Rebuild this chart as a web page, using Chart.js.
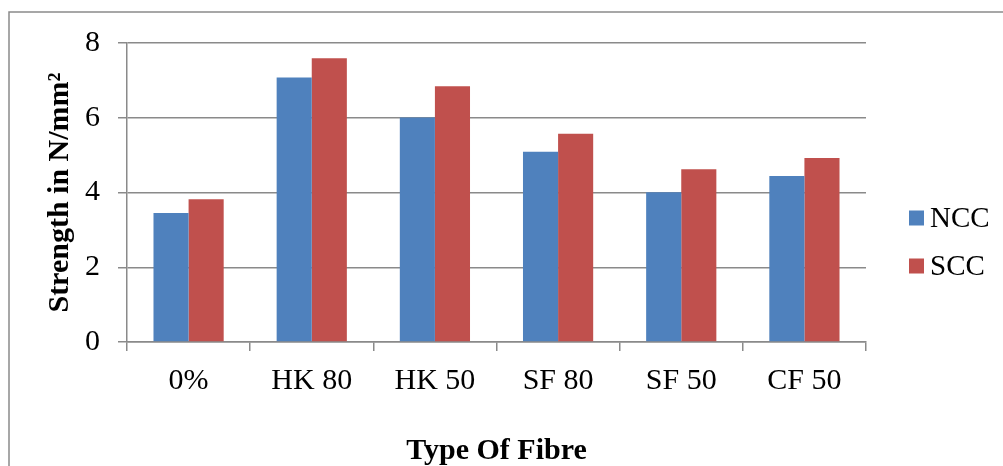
<!DOCTYPE html>
<html>
<head>
<meta charset="utf-8">
<script src="https://cdn.jsdelivr.net/npm/chart.js@4.4.0/dist/chart.umd.min.js"></script>
<style>
    html, body { margin: 0; padding: 0; background: #fff; }
    #wrap { width: 1003px; height: 466px; position: relative; }
</style>
</head>
<body>
<div id="wrap"><canvas id="chart"></canvas></div>
<script>
const fibreTypes = ['0%', 'HK 80', 'HK 50', 'SF 80', 'SF 50', 'CF 50'];
const nccValues = [3.45, 7.08, 6.01, 5.09, 4.01, 4.44];
const sccValues = [3.82, 7.59, 6.84, 5.57, 4.62, 4.92];
const yTicks = [0, 2, 4, 6, 8];

const gridColor = '#8a8a8a';
const serif = '"Liberation Serif", "Times New Roman", serif';

// outer frame of the chart object (left and top edges visible)
const framePlugin = {
    id: 'frame',
    beforeDraw(chart) {
        const ctx = chart.ctx;
        ctx.save();
        ctx.strokeStyle = '#8a8a8a';
        ctx.lineWidth = 1.5;
        ctx.beginPath();
        ctx.moveTo(9, chart.height + 2);
        ctx.lineTo(9, 12);
        ctx.lineTo(chart.width + 2, 12);
        ctx.stroke();
        ctx.restore();
    }
};

// legend drawn to the right of the plot, like the original
const sideLegend = {
    id: 'sideLegend',
    afterDraw(chart) {
        const ctx = chart.ctx;
        ctx.save();
        ctx.font = '29px ' + serif;
        ctx.textBaseline = 'middle';
        chart.data.datasets.forEach((ds, i) => {
            const cy = 218 + i * 48;
            ctx.fillStyle = ds.backgroundColor;
            ctx.fillRect(909, cy - 7.5, 15, 15);
            ctx.fillStyle = '#000';
            ctx.fillText(ds.label, 930, cy + 1);
        });
        ctx.restore();
    }
};

new Chart(document.getElementById('chart'), {
    type: 'bar',
    data: {
        labels: fibreTypes,
        datasets: [
            { label: 'NCC', data: nccValues, backgroundColor: '#4F81BD' },
            { label: 'SCC', data: sccValues, backgroundColor: '#C0504D' }
        ]
    },
    options: {
        responsive: true,
        maintainAspectRatio: false,
        animation: false,
        layout: { padding: { left: 38, top: 43, right: 137, bottom: 0 } },
        datasets: { bar: { categoryPercentage: 0.57, barPercentage: 1 } },
        plugins: {
            legend: { display: false },
            tooltip: { enabled: false }
        },
        scales: {
            x: {
                grid: { drawOnChartArea: false, drawTicks: true, tickLength: 9, color: gridColor, lineWidth: 1.5 },
                border: { color: gridColor, width: 1.5 },
                ticks: { color: '#000', font: { family: serif, size: 30 }, padding: 12, maxRotation: 0 },
                title: {
                    display: true,
                    text: 'Type Of Fibre',
                    color: '#000',
                    font: { family: serif, size: 30, weight: 'bold' },
                    padding: { top: 4, bottom: -3 }
                },
                afterFit(scale) { scale.height = 124; }
            },
            y: {
                min: 0,
                max: 8,
                afterBuildTicks(scale) { scale.ticks = yTicks.map(v => ({ value: v })); },
                grid: { color: gridColor, lineWidth: 1.5, tickLength: 9 },
                border: { color: gridColor, width: 1.5 },
                ticks: { color: '#000', font: { family: serif, size: 30 }, padding: 18 },
                title: {
                    display: true,
                    text: 'Strength in N/mm²',
                    color: '#000',
                    font: { family: serif, size: 30, weight: 'bold' },
                    padding: { top: 4, bottom: 4 }
                },
                afterFit(scale) { scale.width = 89; }
            }
        }
    },
    plugins: [framePlugin, sideLegend]
});
</script>
</body>
</html>
